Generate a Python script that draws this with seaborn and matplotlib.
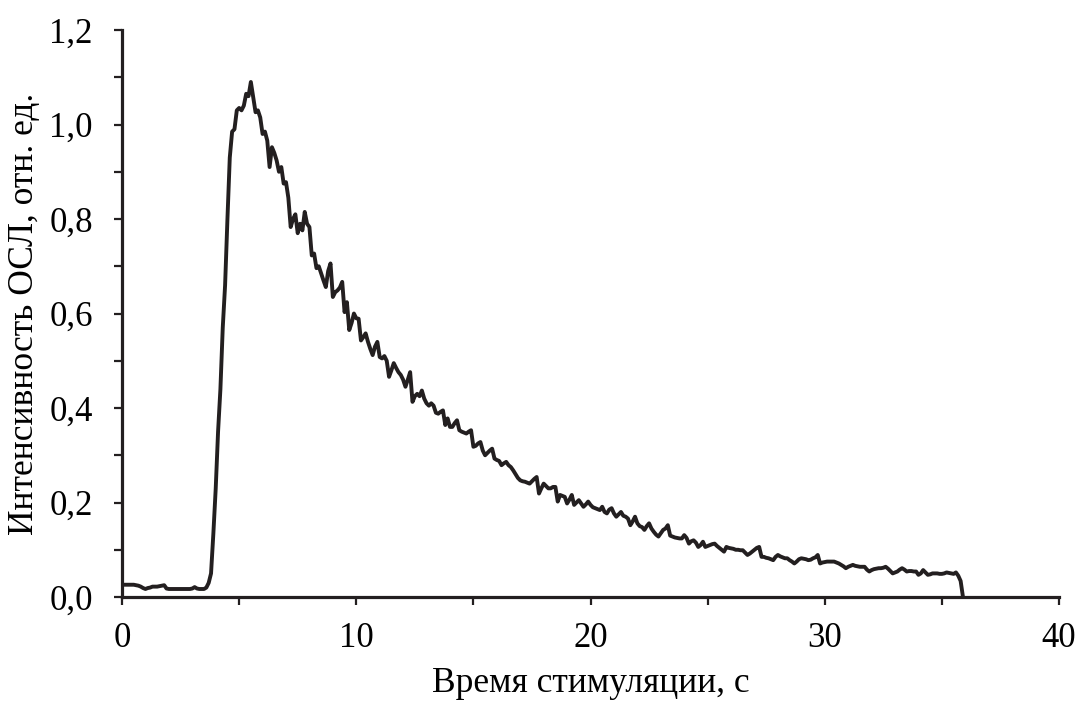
import numpy as np
import pandas as pd
import matplotlib
matplotlib.use("Agg")
import matplotlib.pyplot as plt
from matplotlib.ticker import MultipleLocator, FuncFormatter
import seaborn as sns

# time axis, s (sampling step 0.1 s)
time_s = np.round(np.arange(0, 360) * 0.1, 1)

# OSL intensity, rel. units (one row = one second)
intensity = [
    0.026, 0.026, 0.026, 0.026, 0.026, 0.026, 0.025, 0.024, 0.022, 0.019,
    0.017, 0.019, 0.020, 0.022, 0.022, 0.022, 0.023, 0.024, 0.025, 0.018,
    0.017, 0.017, 0.017, 0.017, 0.017, 0.017, 0.017, 0.017, 0.017, 0.017,
    0.018, 0.021, 0.018, 0.017, 0.017, 0.017, 0.020, 0.030, 0.050, 0.135,
    0.23, 0.35, 0.44, 0.57, 0.66, 0.80, 0.93, 0.985, 0.99, 1.03,
    1.035, 1.03, 1.04, 1.065, 1.06, 1.09, 1.058, 1.026, 1.03, 1.015,
    0.98, 0.985, 0.966, 0.91, 0.952, 0.94, 0.924, 0.90, 0.91, 0.875,
    0.878, 0.845, 0.783, 0.80, 0.81, 0.77, 0.79, 0.776, 0.815, 0.79,
    0.783, 0.723, 0.727, 0.696, 0.70, 0.685, 0.67, 0.656, 0.69, 0.706,
    0.635, 0.645, 0.649, 0.655, 0.667, 0.603, 0.624, 0.565, 0.58, 0.60,
    0.59, 0.589, 0.543, 0.55, 0.558, 0.54, 0.525, 0.512, 0.53, 0.54,
    0.508, 0.505, 0.51, 0.50, 0.466, 0.48, 0.495, 0.485, 0.476, 0.47,
    0.46, 0.445, 0.46, 0.476, 0.413, 0.425, 0.43, 0.425, 0.437, 0.42,
    0.41, 0.405, 0.41, 0.405, 0.39, 0.388, 0.392, 0.395, 0.364, 0.378,
    0.36, 0.36, 0.368, 0.374, 0.353, 0.35, 0.348, 0.346, 0.35, 0.353,
    0.318, 0.32, 0.325, 0.328, 0.31, 0.30, 0.305, 0.31, 0.314, 0.293,
    0.29, 0.288, 0.279, 0.283, 0.286, 0.279, 0.275, 0.268, 0.26, 0.252,
    0.247, 0.245, 0.244, 0.242, 0.24, 0.245, 0.25, 0.254, 0.219, 0.23,
    0.24, 0.235, 0.23, 0.23, 0.233, 0.233, 0.202, 0.216, 0.214, 0.212,
    0.198, 0.206, 0.216, 0.195, 0.20, 0.205, 0.198, 0.191, 0.196, 0.202,
    0.195, 0.19, 0.188, 0.186, 0.184, 0.191, 0.18, 0.177, 0.185, 0.188,
    0.177, 0.17, 0.175, 0.18, 0.172, 0.17, 0.166, 0.152, 0.16, 0.17,
    0.156, 0.15, 0.148, 0.142, 0.15, 0.156, 0.145, 0.138, 0.132, 0.128,
    0.135, 0.142, 0.145, 0.152, 0.13, 0.128, 0.126, 0.125, 0.124, 0.124,
    0.131, 0.125, 0.113, 0.118, 0.12, 0.115, 0.106, 0.11, 0.117, 0.106,
    0.108, 0.11, 0.112, 0.113, 0.108, 0.104, 0.10, 0.096, 0.106, 0.104,
    0.103, 0.102, 0.10, 0.10, 0.099, 0.099, 0.094, 0.089, 0.092, 0.096,
    0.10, 0.104, 0.106, 0.085, 0.085, 0.083, 0.082, 0.08, 0.078, 0.085,
    0.089, 0.086, 0.084, 0.082, 0.082, 0.078, 0.075, 0.071, 0.075, 0.08,
    0.082, 0.081, 0.08, 0.078, 0.079, 0.082, 0.084, 0.089, 0.071, 0.073,
    0.074, 0.075, 0.075, 0.075, 0.075, 0.073, 0.071, 0.068, 0.065, 0.061,
    0.064, 0.066, 0.068, 0.066, 0.065, 0.064, 0.064, 0.064, 0.058, 0.054,
    0.057, 0.059, 0.06, 0.061, 0.061, 0.062, 0.064, 0.06, 0.055, 0.05,
    0.052, 0.054, 0.058, 0.061, 0.058, 0.054, 0.055, 0.055, 0.054, 0.054,
    0.047, 0.05, 0.057, 0.052, 0.047, 0.048, 0.05, 0.05, 0.05, 0.049,
    0.049, 0.05, 0.052, 0.051, 0.05, 0.049, 0.052, 0.045, 0.034, 0.0,
]

x_label = "Время стимуляции, с"
y_label = "Интенсивность ОСЛ, отн. ед."

df = pd.DataFrame({"t": time_s, "I": intensity})

sns.set_theme(style="ticks")
plt.rcParams["font.family"] = ["Liberation Serif", "DejaVu Serif"]

ink = "#231f20"
fig = plt.figure(figsize=(10.77, 7.2), dpi=100)
ax = fig.add_axes([0.1133, 0.1708, 0.8700, 0.7875])

sns.lineplot(data=df, x="t", y="I", ax=ax, color=ink, linewidth=2.8,
             estimator=None, sort=False)

ax.set_xlim(0, 40)
ax.set_ylim(0, 1.2)
ax.xaxis.set_major_locator(MultipleLocator(10))
ax.xaxis.set_minor_locator(MultipleLocator(5))
ax.yaxis.set_major_locator(MultipleLocator(0.2))
ax.yaxis.set_minor_locator(MultipleLocator(0.1))
ax.xaxis.set_major_formatter(FuncFormatter(lambda v, p: f"{v:.0f}"))
ax.yaxis.set_major_formatter(FuncFormatter(lambda v, p: f"{v:.1f}".replace(".", ",")))

for side in ["top", "right"]:
    ax.spines[side].set_visible(False)
for side in ["left", "bottom"]:
    ax.spines[side].set_linewidth(2.3)
    ax.spines[side].set_color(ink)

ax.tick_params(axis="both", which="both", direction="out", length=6,
               width=1.6, color=ink, labelcolor="black", labelsize=25)
ax.tick_params(axis="x", which="major", pad=12)
ax.tick_params(axis="y", which="major", pad=15)

ax.set_xlabel(x_label, fontsize=25.5, color="black")
ax.set_ylabel(y_label, fontsize=25.5, color="black")
ax.xaxis.set_label_coords(0.5, -0.124)
ax.yaxis.set_label_coords(-0.086, 0.5)

fig.savefig("out.png", dpi=100, facecolor="white")
